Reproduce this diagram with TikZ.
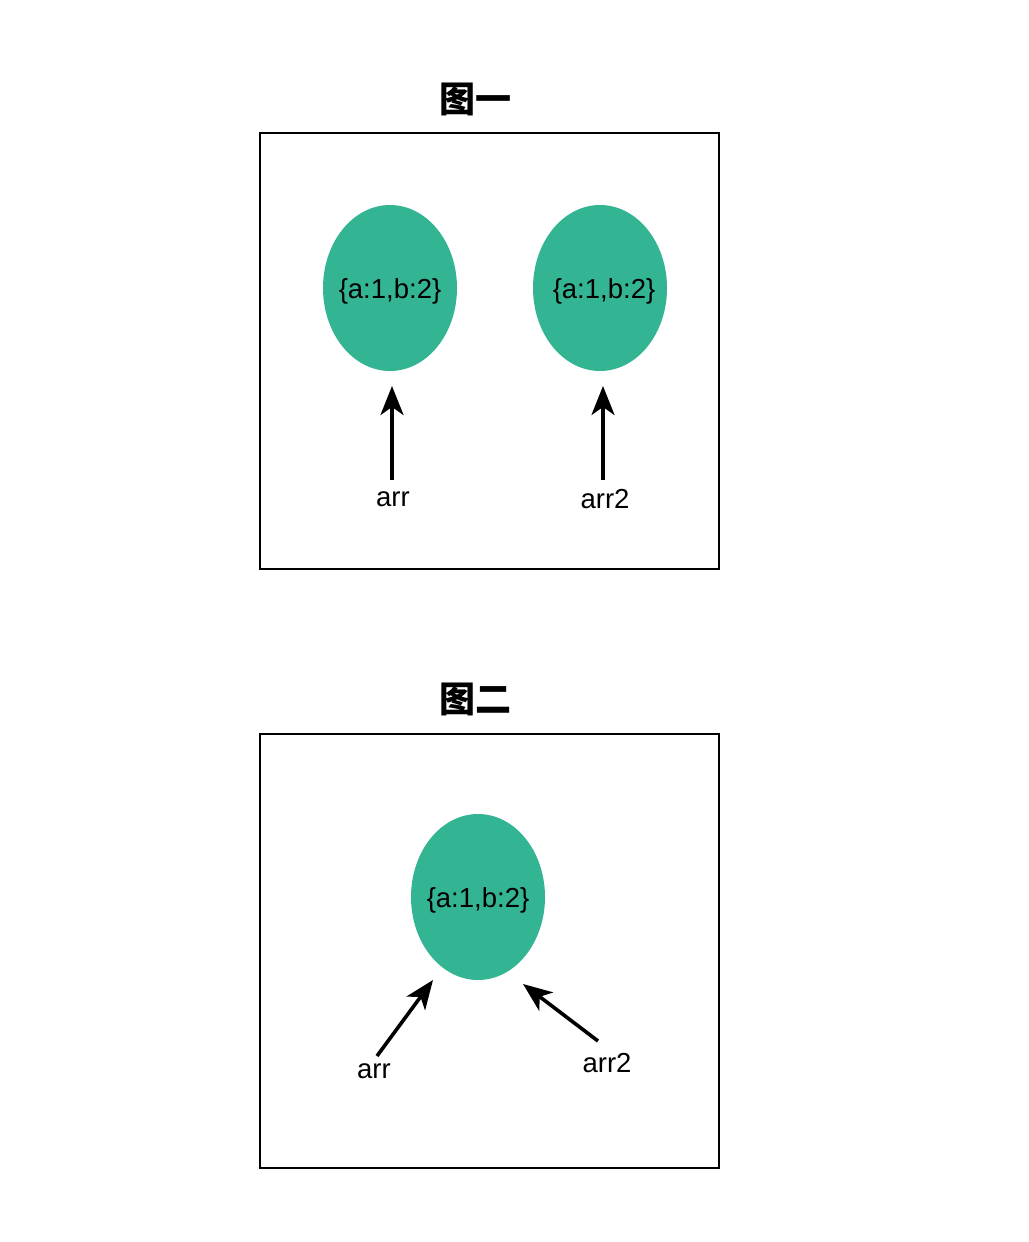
\documentclass[tikz,border=0pt]{standalone}
\usepackage{fontspec}
\setmainfont{Liberation Sans}
\newfontfamily\cjk{Noto Sans CJK SC}
\usetikzlibrary{arrows.meta,shapes.geometric}
\definecolor{blobgreen}{RGB}{51,181,148}
\newcommand{\blobtext}[1][0pt]{\makebox[0pt]{\hspace{#1}\{a:1,b:2\}}}
\tikzset{
  frame/.style={draw=black, line width=1.6pt},
  blob/.style={fill=blobgreen, draw=none, ellipse, minimum width=134pt, minimum height=166pt, inner sep=0pt, text height=20pt, text depth=0pt, font=\fontsize{27.5}{32}\selectfont},
  lbl/.style={inner sep=0pt, font=\fontsize{27.5}{32}\selectfont},
  ttl/.style={inner sep=0pt, font=\cjk\bfseries\fontsize{36}{40}\selectfont},
  ptr/.style={line width=3.6pt, -{Stealth[length=29pt, width=23pt, inset=8pt]}},
}
\begin{document}
\begin{tikzpicture}[x=1pt, y=-1pt]
\useasboundingbox[fill=white] (0,0) rectangle (1028,1242);
% figure 1
\node[ttl] (t1) at (475,99) {图一};
\draw[frame] (260,133) rectangle (719,569);
\node[blob] (e1) at (390,288) {\blobtext};
\node[blob] (e2) at (600,288) {\blobtext[8pt]};
\node[lbl] (a1) at (393,499) {arr};
\node[lbl] (a2) at (605,499) {arr2};
\coordinate (a1t) at (392,480);
\coordinate (a1h) at (392,386);
\coordinate (a2t) at (603,480);
\coordinate (a2h) at (603,386);
\draw[ptr] (a1t) -- (a1h);
\draw[ptr] (a2t) -- (a2h);
% figure 2
\node[ttl] (t2) at (475,699) {图二};
\draw[frame] (260,734) rectangle (719,1168);
\node[blob] (e3) at (478,897) {\blobtext};
\node[lbl] (b1) at (374,1071) {arr};
\node[lbl] (b2) at (607,1063) {arr2};
\coordinate (b1t) at (377,1056);
\coordinate (b1h) at (433,980);
\coordinate (b2t) at (598,1041);
\coordinate (b2h) at (523,984);
\draw[ptr] (b1t) -- (b1h);
\draw[ptr] (b2t) -- (b2h);
\end{tikzpicture}
\end{document}
